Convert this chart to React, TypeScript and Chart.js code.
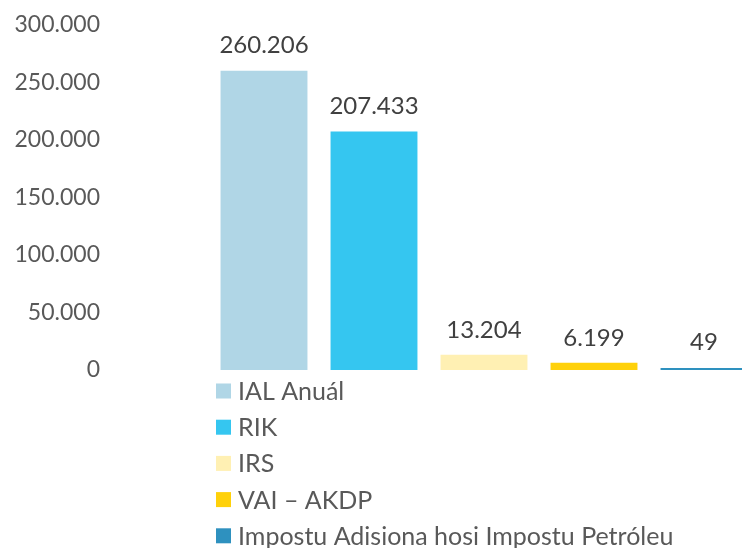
import React, { useEffect, useRef } from "react";
import { Chart, registerables } from "chart.js";

Chart.register(...registerables);

const categories = [
  "IAL Anuál",
  "RIK",
  "IRS",
  "VAI – AKDP",
  "Impostu Adisiona hosi Impostu Petróleu",
];
const values = [260206, 207433, 13204, 6199, 49];
const colors = ["#B0D6E6", "#35C6F0", "#FFF0B3", "#FFD10A", "#2E91BF"];
const yMax = 300000;
const yStep = 50000;

const FONT = "Lato, 'Open Sans', sans-serif";

const fmt = (v: number) =>
  Math.round(v)
    .toString()
    .replace(/\B(?=(\d{3})+(?!\d))/g, ".");

const valueLabels = {
  id: "valueLabels",
  afterDatasetsDraw(chart: any) {
    const ctx = chart.ctx;
    const meta = chart.getDatasetMeta(0);
    ctx.save();
    ctx.font = `24px ${FONT}`;
    ctx.fillStyle = "#404040";
    ctx.textAlign = "center";
    ctx.textBaseline = "middle";
    meta.data.forEach((el: any, i: number) => {
      ctx.fillText(fmt(values[i]), el.x, Math.min(el.y, el.base - 3) - 25);
    });
    ctx.restore();
  },
};

const customLegend = {
  id: "customLegend",
  afterDraw(chart: any) {
    const ctx = chart.ctx;
    const x0 = 216;
    const y0 = 391;
    const gap = 36.2;
    ctx.save();
    ctx.font = `25px ${FONT}`;
    ctx.textAlign = "left";
    ctx.textBaseline = "middle";
    categories.forEach((c, i) => {
      const y = y0 + i * gap;
      ctx.fillStyle = colors[i];
      ctx.fillRect(x0, y - 7.5, 15, 15);
      ctx.fillStyle = "#595959";
      ctx.fillText(c, x0 + 22, y + 1);
    });
    ctx.restore();
  },
};

export default function App() {
  const ref = useRef<HTMLCanvasElement>(null);
  useEffect(() => {
    if (!ref.current) return;
    const chart = new Chart(ref.current, {
      type: "bar",
      data: {
        labels: categories,
        datasets: [
          {
            data: values,
            backgroundColor: colors,
            categoryPercentage: 1,
            barPercentage: 0.79,
            minBarLength: 2,
          },
        ],
      },
      options: {
        animation: false,
        responsive: false,
        maintainAspectRatio: false,
        layout: { padding: { left: 0, right: 11, top: 25, bottom: 178 } },
        plugins: {
          legend: { display: false },
          tooltip: { enabled: false },
        },
        scales: {
          x: { display: false },
          y: {
            min: 0,
            max: yMax,
            afterFit: (s: any) => {
              s.width = 209;
              s.paddingTop = 0;
              s.paddingBottom = 0;
            },
            grid: { display: false, drawTicks: false },
            border: { display: false },
            ticks: {
              stepSize: yStep,
              padding: 109,
              color: "#595959",
              font: { family: FONT, size: 23 },
              callback: (v: any) => fmt(Number(v)),
            },
          },
        },
      },
      plugins: [valueLabels, customLegend],
    });
    return () => chart.destroy();
  }, []);
  return (
    <div
      style={{
        position: "absolute",
        left: 0,
        top: 0,
        width: 742,
        height: 548,
        overflow: "hidden",
        background: "#fff",
      }}
    >
      <canvas ref={ref} width={770} height={548} style={{ display: "block" }} />
    </div>
  );
}
